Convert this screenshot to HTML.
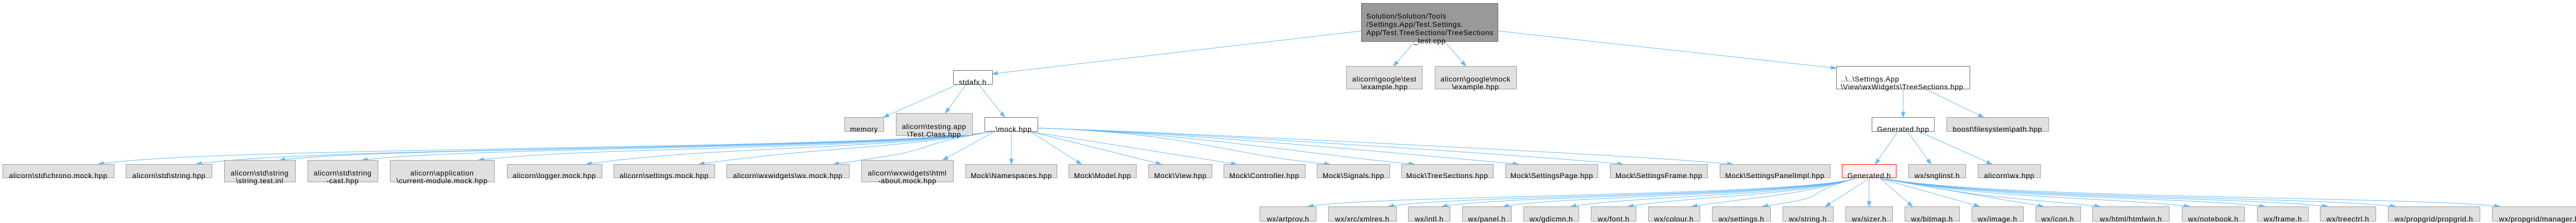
<!DOCTYPE html>
<html><head><meta charset="utf-8">
<style>
html,body{margin:0;padding:0;background:#fff;width:5023px;height:432px;overflow:hidden}
svg{display:block}
text{font-family:"Liberation Sans",sans-serif;font-size:14px;letter-spacing:0.6px;fill:#000}
.g{fill:#e0e0e0;stroke:#999;stroke-width:1}
.w{fill:#fff;stroke:#666;stroke-width:1}
</style></head><body>
<svg id="s" width="5023" height="432" xmlns="http://www.w3.org/2000/svg">
<g id="edges" fill="none" stroke="#63b8ff" stroke-width="1"></g>
<g id="arrows" fill="#63b8ff" stroke="#63b8ff"></g>
<!-- root -->
<rect x="2642.5" y="6.5" width="265" height="74" fill="#999" stroke="#666"/>
<text x="2652" y="36">Solution/Solution/Tools</text>
<text x="2652" y="52">/Settings.App/Test.Settings.</text>
<text x="2652" y="68">App/Test.TreeSections/TreeSections</text>
<text x="2775" y="84" text-anchor="middle">_test.cpp</text>
<!-- level 1 -->
<rect class="w" x="1850.5" y="136.5" width="76" height="27"/>
<text x="1888" y="164" text-anchor="middle">stdafx.h</text>
<rect class="g" x="2613.5" y="128.5" width="147" height="44"/>
<text x="2687" y="158" text-anchor="middle">alicorn\google\test</text>
<text x="2687" y="173" text-anchor="middle">\example.hpp</text>
<rect class="g" x="2785.5" y="128.5" width="158" height="44"/>
<text x="2864" y="158" text-anchor="middle">alicorn\google\mock</text>
<text x="2864" y="173" text-anchor="middle">\example.hpp</text>
<rect class="w" x="3564.5" y="128.5" width="259" height="44"/>
<text x="3573" y="158">..\..\Settings.App</text>
<text x="3573" y="173">\View\wxWidgets\TreeSections.hpp</text>
<!-- level 2 -->
<rect class="g" x="1639.5" y="227.5" width="76" height="27"/>
<text x="1677" y="255" text-anchor="middle">memory</text>
<rect class="g" x="1739.5" y="219.5" width="148" height="43"/>
<text x="1813" y="250" text-anchor="middle">alicorn\testing.app</text>
<text x="1813" y="265" text-anchor="middle">\Test.Class.hpp</text>
<rect class="w" x="1911.5" y="227.5" width="103" height="27"/>
<text x="1963" y="255" text-anchor="middle">..\mock.hpp</text>
<rect class="w" x="3633.5" y="227.5" width="121" height="27"/>
<text x="3694" y="255" text-anchor="middle">Generated.hpp</text>
<rect class="g" x="3778.5" y="227.5" width="198" height="27"/>
<text x="3877" y="255" text-anchor="middle">boost\filesystem\path.hpp</text>
<!-- level 3 -->
<rect class="g" x="5.5" y="318.5" width="216" height="26"/>
<text x="113" y="345" text-anchor="middle">alicorn\std\chrono.mock.hpp</text>
<rect class="g" x="244.5" y="318.5" width="167" height="26"/>
<text x="328" y="345" text-anchor="middle">alicorn\std\string.hpp</text>
<rect class="g" x="435.5" y="310.5" width="138" height="42"/>
<text x="504" y="340" text-anchor="middle">alicorn\std\string</text>
<text x="504" y="355" text-anchor="middle">\string.test.inl</text>
<rect class="g" x="597.5" y="310.5" width="136" height="42"/>
<text x="665" y="340" text-anchor="middle">alicorn\std\string</text>
<text x="665" y="355" text-anchor="middle">-cast.hpp</text>
<rect class="g" x="757.5" y="310.5" width="202" height="42"/>
<text x="858" y="340" text-anchor="middle">alicorn\application</text>
<text x="858" y="355" text-anchor="middle">\current-module.mock.hpp</text>
<rect class="g" x="984.5" y="318.5" width="184" height="26"/>
<text x="1076" y="345" text-anchor="middle">alicorn\logger.mock.hpp</text>
<rect class="g" x="1191.5" y="318.5" width="196" height="26"/>
<text x="1289" y="345" text-anchor="middle">alicorn\settings.mock.hpp</text>
<rect class="g" x="1410.5" y="318.5" width="238" height="26"/>
<text x="1529" y="345" text-anchor="middle">alicorn\wxwidgets\wx.mock.hpp</text>
<rect class="g" x="1672.5" y="310.5" width="178" height="42"/>
<text x="1761" y="340" text-anchor="middle">alicorn\wxwidgets\html</text>
<text x="1761" y="355" text-anchor="middle">-about.mock.hpp</text>
<rect class="g" x="1874.5" y="318.5" width="177" height="26"/>
<text x="1963" y="345" text-anchor="middle">Mock\Namespaces.hpp</text>
<rect class="g" x="2074.5" y="318.5" width="131" height="26"/>
<text x="2140" y="345" text-anchor="middle">Mock\Model.hpp</text>
<rect class="g" x="2229.5" y="318.5" width="123" height="26"/>
<text x="2291" y="345" text-anchor="middle">Mock\View.hpp</text>
<rect class="g" x="2375.5" y="318.5" width="158" height="26"/>
<text x="2454" y="345" text-anchor="middle">Mock\Controller.hpp</text>
<rect class="g" x="2556.5" y="318.5" width="141" height="26"/>
<text x="2627" y="345" text-anchor="middle">Mock\Signals.hpp</text>
<rect class="g" x="2720.5" y="318.5" width="178" height="26"/>
<text x="2809" y="345" text-anchor="middle">Mock\TreeSections.hpp</text>
<rect class="g" x="2922.5" y="318.5" width="179" height="26"/>
<text x="3012" y="345" text-anchor="middle">Mock\SettingsPage.hpp</text>
<rect class="g" x="3125.5" y="318.5" width="189" height="26"/>
<text x="3220" y="345" text-anchor="middle">Mock\SettingsFrame.hpp</text>
<rect class="g" x="3338.5" y="318.5" width="214" height="26"/>
<text x="3445" y="345" text-anchor="middle">Mock\SettingsPanelImpl.hpp</text>
<rect x="3575.5" y="318.5" width="105" height="26" fill="#fff0f0" stroke="#f00"/>
<text x="3628" y="345" text-anchor="middle">Generated.h</text>
<rect class="g" x="3704.5" y="318.5" width="111" height="26"/>
<text x="3760" y="345" text-anchor="middle">wx/snglinst.h</text>
<rect class="g" x="3839.5" y="318.5" width="121" height="26"/>
<text x="3900" y="345" text-anchor="middle">alicorn\wx.hpp</text>
<!-- level 4 -->
<rect class="g" x="2445.5" y="400.5" width="109" height="28"/>
<text x="2500" y="429" text-anchor="middle">wx/artprov.h</text>
<rect class="g" x="2578.5" y="400.5" width="132" height="28"/>
<text x="2644" y="429" text-anchor="middle">wx/xrc/xmlres.h</text>
<rect class="g" x="2733.5" y="400.5" width="81" height="28"/>
<text x="2774" y="429" text-anchor="middle">wx/intl.h</text>
<rect class="g" x="2838.5" y="400.5" width="95" height="28"/>
<text x="2886" y="429" text-anchor="middle">wx/panel.h</text>
<rect class="g" x="2957.5" y="400.5" width="107" height="28"/>
<text x="3011" y="429" text-anchor="middle">wx/gdicmn.h</text>
<rect class="g" x="3088.5" y="400.5" width="87" height="28"/>
<text x="3132" y="429" text-anchor="middle">wx/font.h</text>
<rect class="g" x="3199.5" y="400.5" width="100" height="28"/>
<text x="3249" y="429" text-anchor="middle">wx/colour.h</text>
<rect class="g" x="3323.5" y="400.5" width="113" height="28"/>
<text x="3380" y="429" text-anchor="middle">wx/settings.h</text>
<rect class="g" x="3460.5" y="400.5" width="98" height="28"/>
<text x="3509" y="429" text-anchor="middle">wx/string.h</text>
<rect class="g" x="3582.5" y="400.5" width="91" height="28"/>
<text x="3628" y="429" text-anchor="middle">wx/sizer.h</text>
<rect class="g" x="3697.5" y="400.5" width="106" height="28"/>
<text x="3750" y="429" text-anchor="middle">wx/bitmap.h</text>
<rect class="g" x="3827.5" y="400.5" width="100" height="28"/>
<text x="3877" y="429" text-anchor="middle">wx/image.h</text>
<rect class="g" x="3951.5" y="400.5" width="87" height="28"/>
<text x="3994" y="429" text-anchor="middle">wx/icon.h</text>
<rect class="g" x="4061.5" y="400.5" width="149" height="28"/>
<text x="4136" y="429" text-anchor="middle">wx/html/htmlwin.h</text>
<rect class="g" x="4235.5" y="400.5" width="121" height="28"/>
<text x="4296" y="429" text-anchor="middle">wx/notebook.h</text>
<rect class="g" x="4381.5" y="400.5" width="99" height="28"/>
<text x="4431" y="429" text-anchor="middle">wx/frame.h</text>
<rect class="g" x="4503.5" y="400.5" width="108" height="28"/>
<text x="4557" y="429" text-anchor="middle">wx/treectrl.h</text>
<rect class="g" x="4635.5" y="400.5" width="178" height="28"/>
<text x="4724" y="429" text-anchor="middle">wx/propgrid/propgrid.h</text>
<rect class="g" x="4837.5" y="400.5" width="181" height="28"/>
<text x="4928" y="429" text-anchor="middle">wx/propgrid/manager.h</text>
</svg>
<script>
(function(){
var E=document.getElementById('edges'),A=document.getElementById('arrows'),NS='http://www.w3.org/2000/svg';
function arrow(px,py,tx,ty){var dx=tx-px,dy=ty-py,l=Math.sqrt(dx*dx+dy*dy)||1;dx/=l;dy/=l;
var L=10,W=3.5,bx=tx-dx*L,by=ty-dy*L;var p=document.createElementNS(NS,'polygon');
p.setAttribute('points',tx+','+ty+' '+(bx-dy*W)+','+(by+dx*W)+' '+(bx+dy*W)+','+(by-dx*W));A.appendChild(p);return [bx,by];}
function line(sx,sy,tx,ty){var b=arrow(sx,sy,tx,ty);var p=document.createElementNS(NS,'path');
p.setAttribute('d','M'+sx+','+sy+' L'+b[0]+','+b[1]);E.appendChild(p);}
function curve(sx,sy,cx1,cy1,cx2,cy2,tx,ty){var b=arrow(cx2,cy2,tx,ty);var p=document.createElementNS(NS,'path');
p.setAttribute('d','M'+sx+','+sy+' C'+cx1+','+cy1+' '+cx2+','+cy2+' '+b[0]+','+b[1]);E.appendChild(p);}
line(2642,60,1926,143);
line(2745,81,2705,128);
line(2805,81,2845,128);
line(2907,60,3564,132);
line(1858,164,1715,227);
line(1875,164,1835,219);
line(1900,164,1950,227);
line(3694,173,3694,227);
line(3738,173,3850,227);
line(3683,255,3640,318);
line(3703,255,3748,318);
line(3725,255,3866,318);
var mock=[[5,216,318],[244,167,318],[435,138,310],[597,136,310],[757,202,310],[984,184,318],[1191,196,318],[1410,238,318],[1672,178,310],
[1874,177,318],[2074,131,318],[2229,123,318],[2375,158,318],[2556,141,318],[2720,178,318],[2922,179,318],[3125,189,318],[3338,214,318]];
mock.forEach(function(b){var x=b[0],w=b[1],y=b[2];var cx=x+w/2;
 if(cx<1960){ if(x+w>1840){var tx=Math.min(x+w-20,1930);line(1930,255,tx,y);}
   else {var tx=x+w-30;var sx=1925,sy=255;curve(sx,sy,sx-200,290,tx+250,283,tx,y);}}
 else if(cx<1970){line(1963,255,1963,y);}
 else { if(x<2450){line(2000,255,x+25,y);} else {var tx=x+25;var sx=2014,sy=248;curve(sx,sy,sx+300,258,tx-200,300,tx,y);}}
});
var gen=[[2445,109],[2578,132],[2733,81],[2838,95],[2957,107],[3088,87],[3199,100],[3323,113],[3460,98],[3582,91],[3697,106],[3827,100],[3951,87],[4061,149],[4235,121],[4381,99],[4503,108],[4635,178],[4837,181]];
gen.forEach(function(b){var x=b[0],w=b[1],cx=x+w/2,y=400;
 if(cx<3460){var tx=x+w-15,sx=3600,sy=346;curve(sx,sy,sx-120,380,tx+150,378,tx,y);}
 else if(cx<3700){var tx=Math.max(x+15,Math.min(x+w-15,3628));line(3628,346,tx,y);}
 else if(cx<4100){var tx=x+15;line(3650,346,tx,y);}
 else {var tx=x+15,sx=3660,sy=346;curve(sx,sy,sx+200,385,tx-200,380,tx,y);}
});
})();
</script>
</body></html>
